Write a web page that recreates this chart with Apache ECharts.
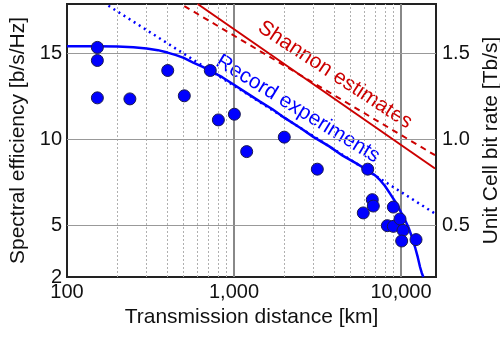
<!DOCTYPE html>
<html>
<head>
<meta charset="utf-8">
<script src="https://cdn.jsdelivr.net/npm/echarts@6/dist/echarts.min.js"></script>
<style>
  html, body { margin: 0; padding: 0; background: #fff; }
  #chart { width: 500px; height: 338px; }
</style>
</head>
<body>
<div id="chart"></div>
<script>
// record experiments (distance km, spectral efficiency b/s/Hz)
const recordDist = [152, 152, 152, 238, 401, 504, 721, 806, 1005, 1191, 2000, 3154,
  6318, 6730, 6826, 5943, 8996, 8280, 8996, 9862, 10280, 10090, 12300];
const recordSE = [15.33, 14.57, 12.40, 12.34, 13.99, 12.52, 13.99, 11.12, 11.45, 9.28, 10.12, 8.26,
  8.26, 6.49, 6.12, 5.72, 6.06, 4.98, 4.94, 5.37, 4.71, 4.09, 4.17];

// fitted curve through the records
const fitDist = [100, 150, 200, 250, 300, 350, 400, 450, 500, 570, 650, 721, 850, 1000, 1200,
  1432, 1700, 2000, 2500, 3000, 3700, 4500, 5400, 6300, 7000, 7500, 8000, 8600, 9200, 9860,
  10400, 11060, 11600, 12130, 12600, 13000, 13300, 13600];
const fitSE = [15.39, 15.39, 15.38, 15.34, 15.27, 15.17, 15.03, 14.88, 14.72, 14.45, 14.2, 13.97, 13.6, 13.16, 12.66,
  12.18, 11.74, 11.25, 10.65, 10.12, 9.6, 9.03, 8.6, 8.2, 7.9, 7.62, 7.3, 6.84, 6.4, 5.87,
  5.45, 4.9, 4.35, 3.74, 3.15, 2.58, 2.25, 2.0];

// dotted trend line
const trendDist = [177, 15980];
const trendSE = [17.75, 5.68];

// Shannon estimates (solid and dashed)
const shannonDist = [606, 15980];
const shannonSE = [17.85, 8.30];
const shannonDashDist = [504, 15980];
const shannonDashSE = [17.73, 9.07];

// ticks and grid lines
const xTicks = [100, 1000, 10000];
const xMinor = [200, 300, 400, 500, 600, 700, 800, 900, 2000, 3000, 4000, 5000, 6000, 7000, 8000, 9000];
const yTicks = [2, 5, 10, 15];
const yGrid = [5, 10, 15];
const rightTicks = [0.5, 1.0, 1.5];

const font = 'Liberation Sans, Arial, sans-serif';

function pairs(xs, ys) {
  return xs.map(function (x, i) { return [x, ys[i]]; });
}

const chart = echarts.init(document.getElementById('chart'), null, { renderer: 'canvas' });

const option = {
  animation: false,
  backgroundColor: '#fff',
  grid: {
    left: 67, right: 64, top: 4, bottom: 61,
    outerBoundsMode: 'none',
    containLabel: false,
    show: true,
    borderColor: '#222',
    borderWidth: 2,
    backgroundColor: 'transparent'
  },
  xAxis: {
    type: 'log',
    logBase: 10,
    min: 100,
    max: 16200,
    name: 'Transmission distance [km]',
    nameLocation: 'middle',
    nameGap: 23,
    nameTextStyle: { fontFamily: font, fontSize: 21, color: '#111' },
    axisLine: { show: false },
    axisTick: { show: false },
    splitLine: { show: false },
    axisLabel: {
      customValues: xTicks,
      fontFamily: font, fontSize: 20, color: '#111', margin: 5,
      formatter: function (v) { return Math.round(v).toLocaleString('en-US'); }
    }
  },
  yAxis: [
    {
      type: 'value',
      min: 2,
      max: 17.85,
      name: 'Spectral efficiency [b/s/Hz]',
      nameLocation: 'middle',
      nameRotate: 90,
      nameGap: 34,
      nameTextStyle: { fontFamily: font, fontSize: 21, color: '#111' },
      axisLine: { show: false },
      axisTick: { show: false },
      splitLine: { show: false },
      axisLabel: { customValues: yTicks, fontFamily: font, fontSize: 20, color: '#111', margin: 5 }
    },
    {
      type: 'value',
      min: 0.2,
      max: 1.785,
      position: 'right',
      name: 'Unit Cell bit rate [Tb/s]',
      nameLocation: 'middle',
      nameRotate: 90,
      nameGap: 45,
      nameTextStyle: { fontFamily: font, fontSize: 21, color: '#111' },
      axisLine: { show: false },
      axisTick: { show: false },
      splitLine: { show: false },
      axisLabel: {
        customValues: rightTicks, fontFamily: font, fontSize: 20, color: '#111', margin: 6,
        formatter: function (v) { return v.toFixed(1); }
      }
    }
  ],
  graphic: [
    {
      type: 'text', x: 335, y: 75, rotation: -0.58, z: 5,
      style: {
        text: 'Shannon estimates', fill: '#cc0000', font: '21px ' + font,
        align: 'center', verticalAlign: 'middle', backgroundColor: '#fff', padding: [0, 2]
      }
    },
    {
      type: 'text', x: 298, y: 109, rotation: -0.55, z: 5,
      style: {
        text: 'Record experiments', fill: '#0000ff', font: '21px ' + font,
        align: 'center', verticalAlign: 'middle', backgroundColor: '#fff', padding: [0, 2]
      }
    }
  ],
  series: [
    {
      // grid lines only
      type: 'line',
      data: [],
      z: 1,
      silent: true,
      markLine: {
        silent: true,
        symbol: ['none', 'none'],
        label: { show: false },
        data: xMinor.map(function (v) {
          return { xAxis: v, lineStyle: { color: '#b0b0b0', width: 1, type: [2, 2] } };
        }).concat(xTicks.slice(1).map(function (v) {
          return { xAxis: v, lineStyle: { color: '#888', width: 2, type: 'solid' } };
        })).concat(yGrid.map(function (v) {
          return { yAxis: v, lineStyle: { color: '#999', width: 1, type: 'solid' } };
        }))
      }
    },
    {
      name: 'Shannon',
      type: 'line',
      z: 10,
      data: pairs(shannonDist, shannonSE),
      showSymbol: false,
      lineStyle: { color: '#cc0000', width: 2 }
    },
    {
      name: 'Shannon dashed',
      type: 'line',
      z: 10,
      data: pairs(shannonDashDist, shannonDashSE),
      showSymbol: false,
      lineStyle: { color: '#cc0000', width: 2, type: [6, 5] }
    },
    {
      name: 'trend',
      type: 'line',
      z: 10,
      data: pairs(trendDist, trendSE),
      showSymbol: false,
      lineStyle: { color: '#0000ff', width: 2.5, type: [2, 4] }
    },
    {
      name: 'fit',
      type: 'line',
      z: 11,
      data: pairs(fitDist, fitSE),
      showSymbol: false,
      lineStyle: { color: '#0000ff', width: 2.5, join: 'round' }
    },
    {
      name: 'records',
      type: 'scatter',
      z: 12,
      data: pairs(recordDist, recordSE),
      symbolSize: 12,
      itemStyle: { color: '#0000ff', borderColor: '#1a1a50', borderWidth: 1, opacity: 1 }
    }
  ]
};

chart.setOption(option);
</script>
</body>
</html>
